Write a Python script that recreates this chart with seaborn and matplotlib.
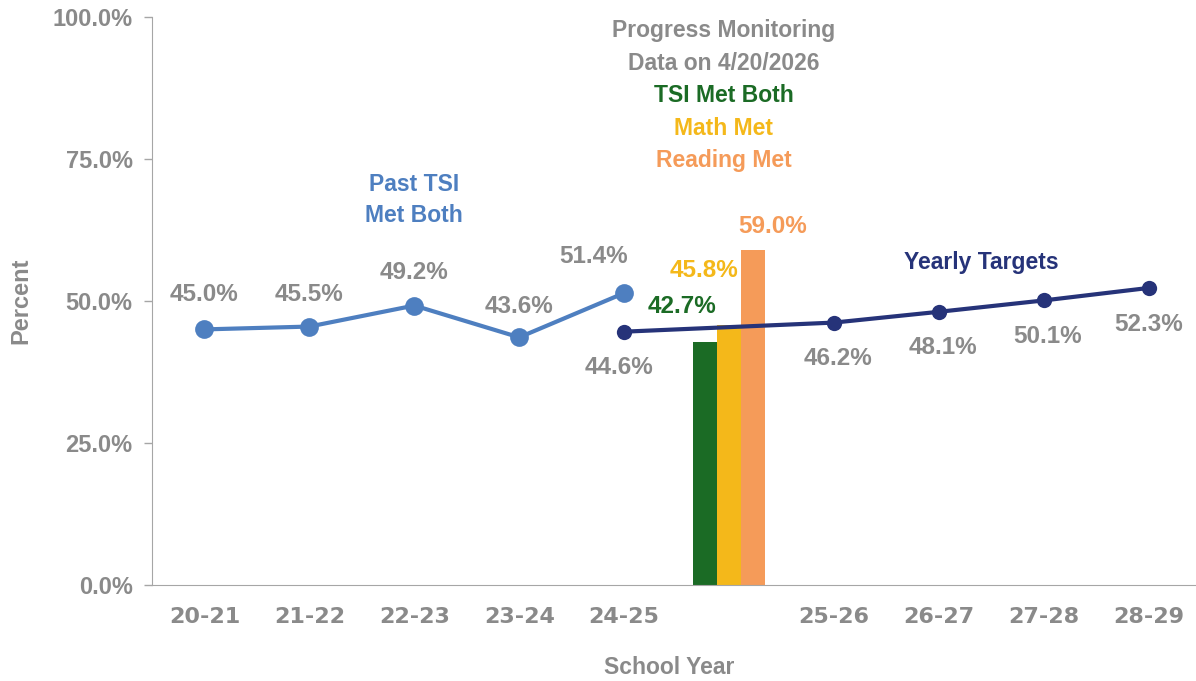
import pandas as pd
import numpy as np
import matplotlib
matplotlib.use('Agg')
import matplotlib.pyplot as plt
from matplotlib.ticker import PercentFormatter
import seaborn as sns

# data
years = ['20-21', '21-22', '22-23', '23-24', '24-25', '', '25-26', '26-27', '27-28', '28-29']
past_years = ['20-21', '21-22', '22-23', '23-24', '24-25']
past_values = [45.0, 45.5, 49.2, 43.6, 51.4]
target_years = ['24-25', '25-26', '26-27', '27-28', '28-29']
target_values = [44.6, 46.2, 48.1, 50.1, 52.3]
bar_groups = ['TSI Met Both', 'Math Met', 'Reading Met']
bar_values = [42.7, 45.8, 59.0]

GRAY = '#8a8a8a'
BLUE = '#4e7fc0'
NAVY = '#263379'
GREEN = '#1b6b25'
YELLOW = '#f4b81a'
ORANGE = '#f59b59'

sns.set_style('white')
plt.rcParams['font.family'] = ['Liberation Sans', 'DejaVu Sans']
plt.rcParams['font.weight'] = 'bold'

fig = plt.figure(figsize=(11.96, 6.81), dpi=100)
ax = fig.add_axes([152 / 1196, 96 / 681, 1044 / 1196, 568 / 681])

pos = {y: i for i, y in enumerate(years)}
bars = pd.DataFrame({'year': [''] * len(bar_groups), 'group': bar_groups, 'value': bar_values})
past = pd.DataFrame({'x': [pos[y] for y in past_years], 'value': past_values})
target = pd.DataFrame({'x': [pos[y] for y in target_years], 'value': target_values})

sns.barplot(data=bars, x='year', y='value', hue='group', order=years, hue_order=bar_groups,
            palette=[GREEN, YELLOW, ORANGE], width=0.68, gap=0, saturation=1, legend=False,
            linewidth=0, ax=ax)
sns.lineplot(data=past, x='x', y='value', color=BLUE, linewidth=3, marker='o',
             markersize=13.5, markeredgewidth=0, ax=ax)
sns.lineplot(data=target, x='x', y='value', color=NAVY, linewidth=3, marker='o',
             markersize=11, markeredgewidth=0, ax=ax)

# point labels
lab_fs = 17.5
past_off = [(0, 25), (0, 23), (0, 24), (0, 22), (-22, 26)]
for (x, v), off in zip(past[['x', 'value']].values, past_off):
    ax.annotate(f'{v:.1f}%', (x, v), xytext=off, textcoords='offset points',
                ha='center', va='center', fontsize=lab_fs, color=GRAY, fontweight='bold')
target_off = [(-4, -26), (3, -26), (3, -26), (3, -26), (0, -26)]
for (x, v), off in zip(target[['x', 'value']].values, target_off):
    ax.annotate(f'{v:.1f}%', (x, v), xytext=off, textcoords='offset points',
                ha='center', va='center', fontsize=lab_fs, color=GRAY, fontweight='bold')

bar_off = [(-17, 26), (-18, 39), (14, 17)]
bar_colors = [GREEN, YELLOW, ORANGE]
for p, v, off, c in zip(ax.patches, bar_values, bar_off, bar_colors):
    cx = p.get_x() + p.get_width() / 2
    ax.annotate(f'{v:.1f}%', (cx, v), xytext=off, textcoords='offset points',
                ha='center', va='center', fontsize=lab_fs, color=c, fontweight='bold')

# series notes
ax.text(pos['22-23'], 67.8, 'Past TSI\nMet Both', ha='center', va='center', color=BLUE,
        fontsize=16.5, fontweight='bold', linespacing=1.45)
ax.text(pos['26-27'] + 0.4, 56.8, 'Yearly Targets', ha='center', va='center', color=NAVY,
        fontsize=16.5, fontweight='bold')
head = [('Progress Monitoring', GRAY), ('Data on 4/20/2026', GRAY), ('TSI Met Both', GREEN),
        ('Math Met', YELLOW), ('Reading Met', ORANGE)]
for i, (t, c) in enumerate(head):
    ax.text(pos[''] - 0.05, 97.6 - i * 5.72, t, ha='center', va='center', color=c,
            fontsize=16.5, fontweight='bold')

ax.set_xlim(-0.5, 9.45)
ax.set_ylim(0, 100)
ax.set_xticks(range(len(years)))
ax.set_xticklabels(years)
ax.set_yticks([0, 25, 50, 75, 100])
ax.yaxis.set_major_formatter(PercentFormatter(decimals=1))
ax.tick_params(axis='x', length=0, pad=16, labelsize=16, labelcolor=GRAY)
ax.tick_params(axis='y', length=6, width=1, color='#a6a6a6', direction='out', pad=8,
               labelsize=17, labelcolor=GRAY, left=True)
for lbl in ax.get_xticklabels() + ax.get_yticklabels():
    lbl.set_fontweight('bold')
for lbl in ax.get_xticklabels():
    lbl.set_family(['DejaVu Sans'])
sns.despine(ax=ax, top=True, right=True)
ax.spines['left'].set_color('#a6a6a6')
ax.spines['bottom'].set_color('#a6a6a6')

ax.set_xlabel('School Year', fontsize=16.5, color=GRAY, fontweight='bold', va='center')
ax.set_ylabel('Percent', fontsize=17, color=GRAY, fontweight='bold', va='center')
ax.xaxis.set_label_coords(0.495, -0.146)
ax.yaxis.set_label_coords(-0.126, 0.5)

fig.savefig('out.png', dpi=100)
